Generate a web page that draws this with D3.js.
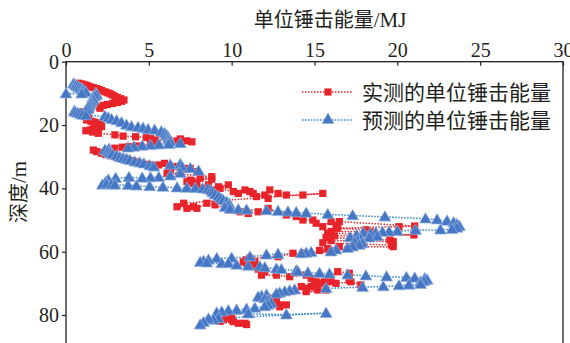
<!DOCTYPE html>
<html>
<head>
<meta charset="utf-8">
<script src="https://cdn.jsdelivr.net/npm/d3@7"></script>
<style>
  html, body { margin: 0; padding: 0; background: #fff; }
  svg { display: block; }
  text { fill: #231f20; }
</style>
</head>
<body>
<svg id="chart" width="570" height="343"></svg>
<script>
// Axis ticks and labels
const xTicks = [0, 5, 10, 15, 20, 25, 30];
const yTicks = [0, 20, 40, 60, 80];
const xTitle = "单位锤击能量/MJ";
const yTitle = "深度/m";
const seriesNames = ["实测的单位锤击能量", "预测的单位锤击能量"];

// Measured unit hammer energy: [depth m, energy MJ], in driving order
const measured = [
  [6.8,0.75],[7.0,0.95],[7.3,1.15],[7.6,1.3],[7.9,1.45],[8.2,1.65],[8.5,1.85],[8.8,2.0],[9.1,2.15],[9.5,2.35],[9.8,2.5],[10.1,2.65],[10.5,2.8],[10.9,2.95],[11.3,3.1],[11.7,3.3],[12.1,3.5],[12.5,3.35],
  [12.9,3.1],[13.2,2.8],[13.5,2.5],[13.8,2.25],[14.2,2.05],[14.7,2.05],
  [15.3,1.45],[15.8,1.0],[16.3,0.75],[16.8,0.9],[17.3,1.1],[17.9,1.35],[18.4,1.25],[18.8,1.5],[19.0,1.65],[19.3,1.85],[19.5,1.95],[20.0,2.1],[20.5,2.15],[20.8,1.95],[21.0,1.75],[21.3,1.6],[21.6,1.45],[21.8,1.2],[22.2,1.6],[22.6,1.95],
  [23.1,2.95],[23.5,3.45],[23.7,4.2],[23.9,4.85],[24.3,5.1],[24.7,5.4],[24.7,6.2],[25.0,6.7],[24.4,6.9],[25.0,7.3],[25.3,7.6],
  [25.8,5.5],[26.0,5.1],[26.6,4.3],[26.8,3.8],[27.0,3.4],[27.3,2.95],[27.9,1.65],
  [28.4,1.85],[28.9,2.15],[29.3,2.4],[29.7,2.7],[30.0,3.0],[30.4,3.3],[30.8,3.6],[31.2,3.9],[31.6,4.2],[32.0,4.5],[32.4,4.8],[32.6,5.1],[33.0,5.4],[32.6,5.6],[32.1,5.95],[33.7,6.3],[33.1,6.6],[33.7,7.1],[33.7,7.5],[34.7,7.9],
  [35.2,6.1],[36.3,8.8],[36.8,8.1],[37.1,8.8],[37.4,7.5],[37.6,7.6],[37.9,7.3],[38.4,7.7],[38.9,7.9],
  [40.0,8.2],[38.9,8.6],[40.5,8.8],[39.5,9.2],[38.9,9.8],[40.0,9.3],[41.0,10.1],[41.6,10.4],[40.5,10.8],[41.0,11.1],[41.6,11.3],[42.6,11.5],[42.1,12.0],[43.2,12.2],[40.5,12.3],[41.6,12.8],[42.1,13.3],[42.1,14.3],[41.6,15.5],
  [44.7,7.1],[45.8,6.7],[46.3,7.3],[45.8,7.7],[46.3,7.9],[44.7,8.5],[45.2,9.0],[46.8,9.9],[47.4,10.5],[47.9,11.0],[47.4,11.6],[46.3,12.2],[48.4,13.3],[48.9,13.9],[50.0,14.3],[50.0,14.9],[51.0,15.1],[52.1,15.5],[50.5,16.0],[51.6,16.3],[50.5,16.5],
  [51.9,21.05],[52.1,20.1],[52.6,16.4],[53.1,18.1],[53.7,18.35],[53.6,16.0],[54.2,15.8],[54.7,21.0],[55.0,16.2],[55.5,15.7],[56.3,19.55],[56.8,19.75],[56.5,16.0],[57.2,15.5],[57.9,19.65],[58.4,19.75],[58.4,16.5],[59.0,15.8],[59.6,15.3],[60.0,15.9],
  [60.4,14.4],[60.5,13.7],[61.6,12.8],[62.0,11.1],[62.6,10.9],[63.2,10.7],[63.7,10.9],[63.2,11.4],[64.0,11.0],[64.7,11.5],
  [65.5,11.6],[66.3,12.0],[67.4,11.8],[67.4,12.7],[67.9,13.5],[67.4,14.5],[68.4,14.8],[69.5,15.1],[70.5,15.0],[70.0,15.3],[69.5,15.6],[69.5,16.0],[66.3,16.4],[66.8,17.1],[69.0,17.1],[70.5,17.8],[69.5,17.2],[70.0,16.3],[71.0,14.2],[71.5,14.5],[71.0,14.8],[72.6,14.5],[72.1,15.2],[72.1,15.7],
  [74.7,11.7],[74.7,12.3],[75.3,12.7],[76.8,12.9],[76.8,13.3],[77.4,12.9],
  [80.5,9.4],[81.0,9.7],[81.5,10.0],[82.1,10.1],[82.6,10.4],[82.6,10.8],[83.0,10.9],[82.0,9.3],[81.5,9.5],[80.8,10.0]
];

// Predicted unit hammer energy: [depth m, energy MJ]
const predicted = [
  [7.0,0.45],[7.3,0.55],[7.6,0.6],[7.9,0.7],[8.2,0.8],[8.5,0.9],[8.8,1.0],[9.1,1.05],[9.4,1.15],[9.7,1.2],
  [10.1,0.0],[10.1,0.95],[10.0,1.8],[10.5,1.85],[11.0,1.75],[11.5,1.6],[12.0,1.65],[12.5,1.55],[13.0,1.5],[13.5,1.45],[14.0,1.4],[14.5,1.35],[15.0,1.3],[15.5,1.2],
  [15.6,0.5],[15.9,0.55],[16.2,0.7],[16.5,0.85],[16.8,1.0],[17.0,1.2],
  [17.2,2.35],[17.7,2.55],[18.2,2.75],[18.6,3.05],[19.2,3.35],[20.0,3.65],[20.5,3.95],[20.7,4.35],[21.0,4.65],[21.4,4.95],[21.6,5.35],[22.1,5.75],[22.6,5.95],[23.2,6.05],[23.7,6.15],[24.3,6.2],[24.8,6.25],[25.3,6.3],[25.8,6.9],
  [26.1,6.2],[26.2,5.6],[26.4,5.1],[26.6,4.6],[26.9,4.1],[27.2,3.75],[27.6,2.6],[27.9,2.35],
  [28.3,2.5],[28.6,2.6],[29.0,2.7],[29.3,2.8],[29.7,3.05],[30.2,3.25],[30.5,3.45],[30.8,3.65],[31.1,3.85],[31.6,4.15],[31.9,4.45],[32.2,4.7],[32.8,5.05],[33.2,5.3],[32.6,6.3],[32.4,6.9],[33.2,7.0],[33.7,7.5],[34.5,8.0],
  [35.2,6.9],[36.0,6.3],[36.5,5.6],[36.6,5.1],[36.7,4.6],[36.5,3.8],[36.8,3.0],[37.3,2.55],[38.0,2.4],[38.9,2.2],
  [38.7,2.45],[38.8,2.75],[38.9,2.95],[39.0,3.75],[39.2,4.25],[39.4,5.05],[39.6,5.85],[39.8,6.7],[39.9,7.3],[40.0,7.8],[40.1,8.25],[40.3,8.55],[40.7,8.75],
  [41.3,8.85],[42.0,9.0],[42.6,9.2],[43.2,9.35],[43.8,9.5],[44.3,9.7],[44.9,9.85],[45.5,9.8],[46.0,9.6],
  [46.5,9.9],[46.7,10.4],[46.8,10.9],[47.0,12.1],[47.2,12.8],[47.4,13.4],[47.6,13.9],[47.8,14.5],[48.2,15.8],[48.6,17.3],[49.0,19.25],[49.6,21.7],[49.9,22.4],[50.3,23.0],[50.8,23.4],[51.4,23.6],[52.0,23.75],[52.5,23.6],[52.9,23.3],
  [53.1,22.6],[53.2,21.1],[53.5,20.0],[53.7,19.5],[53.8,19.1],[54.0,18.7],[54.3,18.35],[54.0,17.95],[54.8,17.55],[55.5,17.15],
  [55.2,18.8],[55.6,18.3],[56.0,17.8],[56.5,17.6],[57.0,17.4],[57.4,17.9],[57.9,17.7],[58.4,17.3],[58.9,17.0],[59.4,16.3],[60.0,16.0],
  [60.2,14.8],[60.4,14.5],[60.6,14.2],[60.8,12.8],[61.0,12.1],[61.6,11.1],[62.0,10.0],[62.1,9.1],[62.6,8.6],[63.0,8.3],[63.3,8.1],
  [63.5,8.5],[63.7,9.4],[63.7,9.8],[64.2,10.3],[64.5,11.0],[64.7,11.7],[65.0,12.0],[65.4,12.7],[65.6,13.0],[66.0,13.9],[66.3,14.0],[66.6,14.6],[66.8,15.3],[67.0,15.9],[67.3,17.0],[67.6,18.1],[67.9,19.35],[68.1,20.55],[68.3,21.05],[68.5,21.65],[68.9,21.8],[69.3,21.6],[69.6,21.4],
  [70.3,21.4],[70.5,20.7],[70.7,20.1],[71.0,19.15],[71.2,17.9],[71.6,15.7],[72.0,13.8],[72.3,13.5],[72.6,13.2],[73.0,12.9],[73.3,12.7],[73.6,12.1],[74.0,11.8],[74.3,11.6],
  [74.8,12.0],[75.3,12.2],[75.8,12.3],[76.3,12.4],[76.8,12.2],[77.3,12.0],[77.8,11.4],
  [78.1,10.9],[78.4,10.3],[78.6,9.8],[79.0,9.4],[79.3,9.1],
  [79.6,11.0],[79.9,13.3],[79.4,15.7],
  [81.0,9.2],[81.6,8.9],[81.2,8.6],[82.3,8.3],[83.1,8.1]
];

const colors = { measured: "#e8242a", predicted: "#4677c4", predictedLine: "#2f80c8" };
const numFont = "'Liberation Serif', 'Times New Roman', serif";
const cjkFont = "'Noto Sans CJK SC', 'Liberation Serif', serif";

const svg = d3.select("#chart");
const plot = { left: 66, right: 563, top: 61.7, bottom: 346.7 };

const x = d3.scaleLinear().domain([0, 30]).range([plot.left, plot.right]);
const y = d3.scaleLinear().domain([0, 90]).range([plot.top, plot.bottom]);

// Frame
svg.append("rect")
  .attr("x", plot.left).attr("y", plot.top)
  .attr("width", plot.right - plot.left).attr("height", plot.bottom - plot.top)
  .attr("fill", "none").attr("stroke", "#231f20").attr("stroke-width", 1.3);

// Top axis (energy)
const xAxis = svg.append("g")
  .attr("transform", `translate(0,${plot.top})`)
  .call(d3.axisTop(x).tickValues(xTicks).tickSize(-4).tickPadding(5).tickFormat(d3.format("d")));
xAxis.select(".domain").remove();
xAxis.selectAll("line").attr("stroke", "#231f20").attr("stroke-width", 1.2);
xAxis.selectAll("text").attr("font-family", numFont).attr("font-size", 20).attr("fill", "#231f20");

// Left axis (depth)
const yAxis = svg.append("g")
  .attr("transform", `translate(${plot.left},0)`)
  .call(d3.axisLeft(y).tickValues(yTicks).tickSize(4).tickPadding(3).tickFormat(d3.format("d")));
yAxis.select(".domain").remove();
yAxis.selectAll("line").attr("stroke", "#231f20").attr("stroke-width", 1.2);
yAxis.selectAll("text").attr("font-family", numFont).attr("font-size", 20).attr("fill", "#231f20");

// Axis titles
svg.append("text")
  .attr("x", 330).attr("y", 27)
  .attr("text-anchor", "middle")
  .attr("font-family", cjkFont).attr("font-size", 20)
  .text(xTitle.replace("/MJ", ""))
  .append("tspan").attr("font-family", numFont).attr("font-size", 21).text("/MJ");

svg.append("text")
  .attr("transform", "translate(26,192) rotate(-90)")
  .attr("text-anchor", "middle")
  .attr("font-family", cjkFont).attr("font-size", 20)
  .text(yTitle.replace("/m", ""))
  .append("tspan").attr("font-family", numFont).attr("font-size", 21).text("/m");

const line = d3.line().x(d => x(d[1])).y(d => y(d[0]));

const dataLayer = svg.append("g");

dataLayer.append("path")
  .datum(predicted)
  .attr("d", line)
  .attr("fill", "none").attr("stroke", colors.predictedLine)
  .attr("stroke-width", 1.5).attr("stroke-dasharray", "1.5,1.5");

dataLayer.append("path")
  .datum(measured)
  .attr("d", line)
  .attr("fill", "none").attr("stroke", colors.measured)
  .attr("stroke-width", 1.5).attr("stroke-dasharray", "1.5,1.5");

const square = d3.symbol().type(d3.symbolSquare).size(52);
const triangle = d3.symbol().type(d3.symbolTriangle).size(62);

dataLayer.selectAll(".m").data(measured).join("path")
  .attr("class", "m")
  .attr("transform", d => `translate(${x(d[1])},${y(d[0])})`)
  .attr("d", square)
  .attr("fill", colors.measured);

dataLayer.selectAll(".p").data(predicted).join("path")
  .attr("class", "p")
  .attr("transform", d => `translate(${x(d[1])},${y(d[0]) + 0.8})`)
  .attr("d", triangle)
  .attr("fill", colors.predicted)
  .attr("stroke", "#93b2e0").attr("stroke-width", 0.7);

// Legend
const legend = svg.append("g");
const legendRows = [
  { name: seriesNames[0], color: colors.measured, lineColor: colors.measured, symbol: square, stroke: "none", y: 92 },
  { name: seriesNames[1], color: colors.predicted, lineColor: colors.predictedLine, symbol: triangle, stroke: "#93b2e0", y: 120 }
];
legendRows.forEach(r => {
  legend.append("line")
    .attr("x1", 302).attr("x2", 353).attr("y1", r.y).attr("y2", r.y)
    .attr("stroke", r.lineColor).attr("stroke-width", 1.5).attr("stroke-dasharray", "1.5,1.5");
  legend.append("path")
    .attr("transform", `translate(328,${r.y})`)
    .attr("d", r.symbol)
    .attr("fill", r.color).attr("stroke", r.stroke).attr("stroke-width", 0.7);
  legend.append("text")
    .attr("x", 362).attr("y", r.y)
    .attr("dy", "0.36em")
    .attr("font-family", cjkFont).attr("font-size", 21)
    .text(r.name);
});
</script>
</body>
</html>
